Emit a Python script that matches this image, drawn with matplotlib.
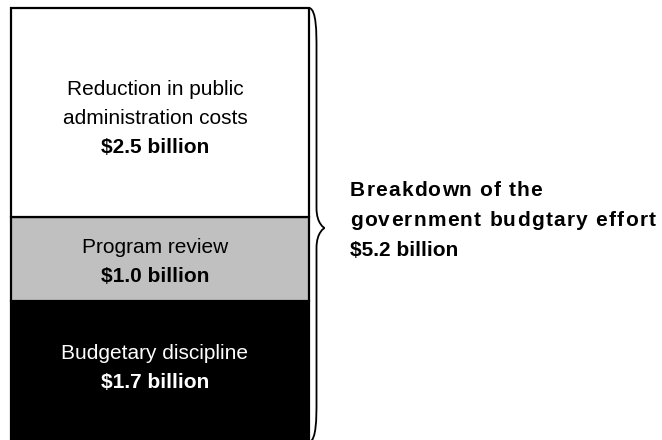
import matplotlib
matplotlib.use("Agg")
import matplotlib.pyplot as plt
from matplotlib.path import Path
from matplotlib.patches import PathPatch
import numpy as np

plt.rcParams["font.family"] = ["Liberation Sans", "DejaVu Sans"]

# Components of the budgetary effort (billions of dollars), bottom to top
categories = ["Budgetary discipline", "Program review",
              "Reduction in public\nadministration costs"]
values = [1.7, 1.0, 2.5]
value_labels = ["$1.7 billion", "$1.0 billion", "$2.5 billion"]
colors = ["#000000", "#c0c0c0", "#ffffff"]
text_colors = ["white", "black", "black"]
total = sum(values)
summary_lines = ["Breakdown of the", "government budgtary effort",
                 f"${total:.1f} billion"]

W, H = 662, 440
fig = plt.figure(figsize=(W / 100, H / 100), dpi=100)
fig.patch.set_facecolor("white")
renderer = fig.canvas.get_renderer()

# Stacked bar axes (the lowest segment runs slightly past the bottom edge)
px_per_unit = 83.5
bar_top = 8.5
bar_h = px_per_unit * total
ax = fig.add_axes([11 / W, (H - bar_top - bar_h) / H, 298 / W, bar_h / H])
bottoms = np.concatenate([[0], np.cumsum(values)[:-1]])
ax.bar([0] * len(values), values, bottom=bottoms, width=1.0,
       color=colors, edgecolor="black", linewidth=1.6, clip_on=False)
ax.set_xlim(-0.5, 0.5)
ax.set_ylim(0, total)
ax.axis("off")

# Segment labels: name lines plus a bold amount, stacked around the segment middle
label_shift_px = [4, -3, -5.5]   # small vertical nudges (pixels, + = up)
line_step = 29 / px_per_unit
for cat, val, lab, b, tc, sh in zip(categories, values, value_labels,
                                    bottoms, text_colors, label_shift_px):
    lines = cat.split("\n") + [lab]
    mid = b + val / 2 + sh / px_per_unit
    start = mid + line_step * (len(lines) - 1) / 2
    for i, line in enumerate(lines):
        ax.text(-0.017, start - i * line_step, line, ha="center",
                va="center", fontsize=15, color=tc,
                fontweight="bold" if i == len(lines) - 1 else "normal")

# Overlay in pixel units for the brace and summary text
ov = fig.add_axes([0, 0, 1, 1])
ov.set_xlim(0, W)
ov.set_ylim(H, 0)
ov.axis("off")
ov.patch.set_alpha(0)

x0, x1, xt = 309.5, 316.5, 324.5
ytop, ybot, ytip = 8, 442, 228
verts = [
    (x0, ytop),
    (x1, ytop + 2), (x1, ytop + 25), (x1, ytop + 40),
    (x1, ytip - 20),
    (x1, ytip - 4), (xt, ytip), (xt, ytip),
    (xt, ytip), (x1, ytip + 4), (x1, ytip + 20),
    (x1, ybot - 40),
    (x1, ybot - 25), (x1, ybot - 2), (x0, ybot),
]
codes = [Path.MOVETO,
         Path.CURVE4, Path.CURVE4, Path.CURVE4,
         Path.LINETO,
         Path.CURVE4, Path.CURVE4, Path.CURVE4,
         Path.CURVE4, Path.CURVE4, Path.CURVE4,
         Path.LINETO,
         Path.CURVE4, Path.CURVE4, Path.CURVE4]
ov.add_patch(PathPatch(Path(verts, codes), facecolor="none",
                       edgecolor="black", linewidth=1.3))


def text_width(s, **kw):
    t = fig.text(0, 0, s, **kw)
    w = t.get_window_extent(renderer).width
    t.remove()
    return w


def tracked_text(x, y, s, track, **kw):
    """Draw a line of text with extra letter spacing (pixels per glyph)."""
    if track == 0:
        ov.text(x, y, s, ha="left", va="center_baseline", **kw)
        return
    for i, ch in enumerate(s):
        if ch == " ":
            continue
        adv = text_width("|" + s[:i] + "|", **kw) - text_width("||", **kw) if i else 0
        ov.text(x + adv + i * track, y, ch, ha="left",
                va="center_baseline", **kw)


summary_track = [1.1, 1.25, 0]
style = dict(fontsize=15, fontweight="bold", color="black")
for i, (line, tr) in enumerate(zip(summary_lines, summary_track)):
    tracked_text(350, 188.5 + i * 30, line, tr, **style)

fig.savefig("out.png", dpi=100, facecolor="white")
